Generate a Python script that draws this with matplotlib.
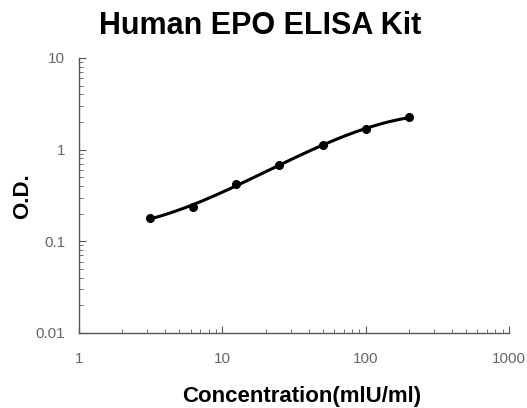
import numpy as np
import matplotlib
matplotlib.use("Agg")
import matplotlib.pyplot as plt
from matplotlib.ticker import LogLocator, FixedLocator, NullFormatter

plt.rcParams["font.family"] = ["Liberation Sans", "DejaVu Sans"]

# Standard curve data
conc = [3.125, 6.25, 12.5, 25, 50, 100, 200]
od = [0.178, 0.239, 0.419, 0.68, 1.12, 1.67, 2.25]

xticks = [1, 10, 100, 1000]
xtick_labels = ["1", "10", "100", "1000"]
yticks = [0.01, 0.1, 1, 10]
ytick_labels = ["0.01", "0.1", "1", "10"]

fig = plt.figure(figsize=(5.27, 4.08), dpi=100)
ax = fig.add_axes([0.150, 0.184, 0.816, 0.674])

# smooth trend line through the standards (cubic fit in log-log space)
lx = np.log10(conc)
ly = np.log10(od)
coef = np.polyfit(lx, ly, 3)
xs = np.linspace(lx.min(), lx.max(), 200)
ax.plot(10 ** xs, 10 ** np.polyval(coef, xs), color="black", lw=2.2)
ax.plot(conc, od, "o", color="black", ms=5.5)

ax.set_xscale("log")
ax.set_yscale("log")
ax.set_xlim(1, 1000)
ax.set_ylim(0.01, 10)

ax.xaxis.set_major_locator(FixedLocator(xticks))
ax.set_xticklabels(xtick_labels)
ax.yaxis.set_major_locator(FixedLocator(yticks))
ax.set_yticklabels(ytick_labels)
ax.xaxis.set_minor_locator(LogLocator(base=10, subs=np.arange(2, 10)))
ax.yaxis.set_minor_locator(LogLocator(base=10, subs=np.arange(2, 10)))
ax.xaxis.set_minor_formatter(NullFormatter())
ax.yaxis.set_minor_formatter(NullFormatter())

for s in ["top", "right"]:
    ax.spines[s].set_visible(False)
for s in ["left", "bottom"]:
    ax.spines[s].set_color("#555555")
    ax.spines[s].set_linewidth(1.0)

ax.tick_params(which="major", direction="in", length=5, color="#555555",
               labelsize=11, labelcolor="#666666")
ax.tick_params(axis="x", which="major", pad=14)
ax.tick_params(axis="y", which="major", pad=10)
ax.tick_params(which="minor", direction="in", length=3, color="#555555")

fig.text(0.494, 0.936, "Human EPO ELISA Kit", ha="center", va="center",
         fontsize=22, fontweight="bold")
fig.text(0.042, 0.52, "O.D.", ha="center", va="center", rotation=90,
         fontsize=16, fontweight="bold")
fig.text(0.572, 0.027, "Concentration(mlU/ml)", ha="center", va="center",
         fontsize=16, fontweight="bold")

fig.savefig("out.png", dpi=100)
